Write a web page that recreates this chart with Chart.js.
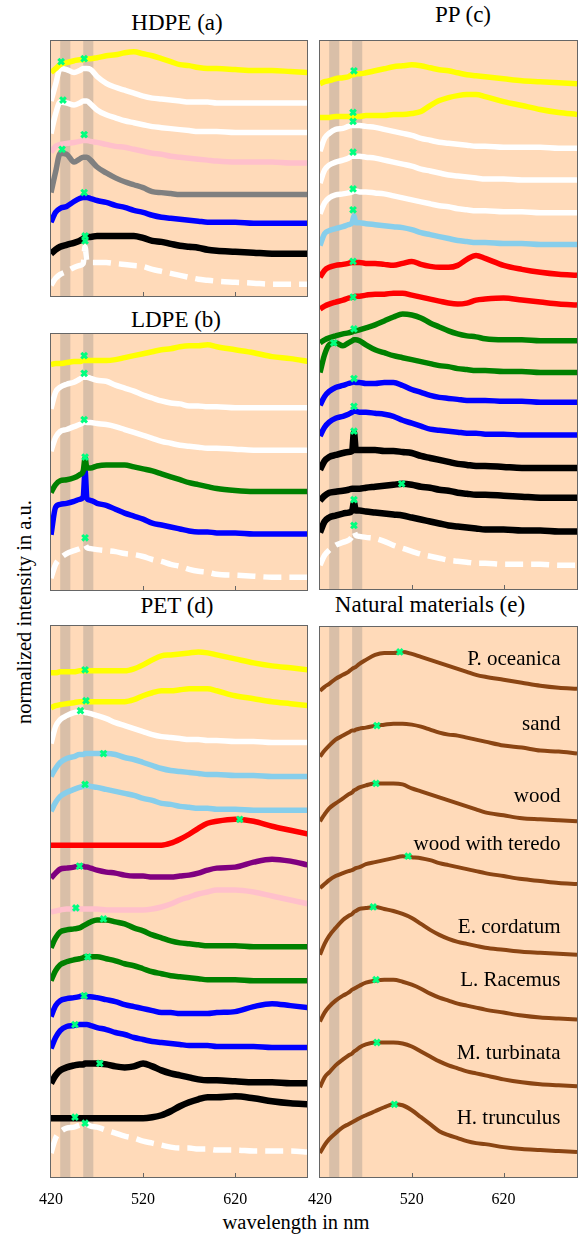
<!DOCTYPE html>
<html>
<head>
<meta charset="utf-8">
<script src="https://cdn.jsdelivr.net/npm/chart.js@4.4.1/dist/chart.umd.min.js"></script>
<style>
  body { margin: 0; background: #fff; width: 579px; height: 1236px; position: relative; overflow: hidden;
         font-family: "Liberation Serif", serif; color: #000; }
  canvas { position: absolute; }
  .t { position: absolute; font-size: 23px; line-height: 23px; white-space: nowrap; transform: translateX(-50%); }
  .lab { position: absolute; font-size: 20.5px; line-height: 20px; white-space: nowrap; }
</style>
</head>
<body>
<div class="t" style="left:177px;top:11px">HDPE (a)</div>
<div class="t" style="left:463px;top:3px">PP (c)</div>
<div class="t" style="left:176px;top:308px">LDPE (b)</div>
<div class="t" style="left:177px;top:594px">PET (d)</div>
<div class="t" style="left:430px;top:592.5px">Natural materials (e)</div>
<div class="lab" style="left:24px;top:612px;transform:translate(-50%,-50%) rotate(-90deg)">normalized intensity in a.u.</div>
<div class="lab" style="left:296px;top:1212px;transform:translateX(-50%)">wavelength in nm</div>

<canvas id="hdpe" width="306" height="269" style="left:26px;top:34px"></canvas>
<canvas id="ldpe" width="306" height="270" style="left:26px;top:327px"></canvas>
<canvas id="pet" width="306" height="588" style="left:26px;top:619px"></canvas>
<canvas id="pp" width="307" height="562" style="left:295px;top:34px"></canvas>
<canvas id="nat" width="307" height="587" style="left:295px;top:620px"></canvas>

<script>
// wavelength grid (nm), shared by every spectrum
const wl = [420,425,430,437,445,451,455,457,459,463,470,480,490,500,510,520,530,540,550,560,570,580,590,600,620,640,660,680,700];
const xTicks = [420, 520, 620];
const bands = [[430, 441], [455, 466]];

// HDPE (a)
const hdpeYellow = [22.7,23.1,23.5,23.7,23.9,24.0,24.0,24.1,24.1,24.1,24.2,24.4,24.5,24.7,24.8,24.6,24.4,24.1,23.8,23.5,23.4,23.2,23.1,23.1,23.0,22.9,22.9,22.8,22.7];
const hdpeWhite1 = [19.8,21.5,23.1,23.0,22.7,22.9,23.1,23.1,23.1,23.0,22.3,21.6,21.2,20.9,20.6,20.3,20.1,20.0,19.9,19.8,19.7,19.7,19.7,19.6,19.6,19.6,19.6,19.6,19.6];
const hdpeWhite2 = [16.5,18.5,19.7,19.6,19.4,19.6,19.8,19.8,19.8,19.5,18.9,18.4,18.1,17.8,17.6,17.4,17.2,17.1,17.0,16.9,16.8,16.7,16.7,16.7,16.6,16.6,16.6,16.6,16.6];
const hdpePink = [14.6,15.2,15.4,15.5,15.6,15.7,15.8,15.8,15.8,15.7,15.6,15.4,15.2,15.1,14.9,14.7,14.5,14.4,14.2,14.1,14.0,13.9,13.8,13.7,13.6,13.6,13.6,13.5,13.5];
const hdpeGray = [10.5,12.6,14.5,14.4,13.6,13.9,14.1,14.1,14.1,13.8,13.1,12.5,12.0,11.6,11.3,11.0,10.6,10.5,10.4,10.3,10.3,10.3,10.3,10.3,10.3,10.3,10.3,10.3,10.3];
const hdpeBlue = [7.5,8.5,8.9,9.1,9.6,9.9,10.0,10.0,10.0,9.9,9.7,9.5,9.2,9.0,8.7,8.5,8.2,8.0,7.9,7.8,7.7,7.6,7.5,7.5,7.5,7.4,7.4,7.4,7.4];
const hdpeBlack = [4.3,4.7,5.0,5.2,5.4,5.6,5.8,6.0,6.0,6.0,6.1,6.1,6.1,6.1,6.1,5.9,5.6,5.5,5.3,5.1,5.0,4.9,4.7,4.6,4.5,4.4,4.3,4.3,4.3];
const hdpeDash = [1.1,1.8,2.2,2.5,2.9,3.1,3.3,5.0,3.5,3.4,3.4,3.4,3.3,3.2,3.1,3.0,2.7,2.5,2.3,2.1,1.9,1.7,1.6,1.5,1.4,1.3,1.2,1.2,1.2];
const hdpeMarks = [[456,24.1],[431,23.8],[433,19.9],[456,16.4],[432,14.9],[456,10.5],[457,6.1],[457,5.6]];

// LDPE (b)
const ldpeYellow = [22.9,23.0,23.0,23.1,23.2,23.2,23.3,23.3,23.3,23.3,23.3,23.3,23.4,23.6,23.8,24.0,24.2,24.4,24.5,24.7,24.8,24.8,24.9,24.7,24.4,24.1,23.7,23.5,23.2];
const ldpeWhite1 = [18.4,20.1,20.6,20.9,21.1,21.4,21.6,21.6,21.6,21.5,21.3,21.2,20.8,20.5,20.2,19.8,19.5,19.2,19.0,18.9,18.7,18.7,18.6,18.6,18.5,18.5,18.5,18.5,18.5];
const ldpeWhite2 = [14.1,15.5,16.1,16.3,16.6,16.8,17.0,17.1,17.0,17.0,16.9,16.8,16.6,16.3,16.0,15.7,15.4,15.1,14.9,14.7,14.6,14.5,14.4,14.4,14.3,14.2,14.2,14.2,14.2];
const ldpeGreen = [9.9,10.7,11.1,11.2,11.4,11.7,12.1,13.4,12.4,12.4,12.6,12.7,12.7,12.7,12.5,12.3,12.1,11.8,11.5,11.2,10.9,10.7,10.5,10.3,10.1,10.0,10.0,10.0,10.0];
const ldpeBlue = [5.6,8.4,8.7,8.8,9.0,9.2,9.5,12.1,9.3,9.1,8.8,8.6,8.2,7.8,7.5,7.2,6.8,6.6,6.4,6.2,6.0,5.9,5.9,5.8,5.8,5.7,5.7,5.7,5.7];
const ldpeDash = [1.2,2.6,3.2,3.7,4.0,4.2,4.4,4.6,4.3,4.2,4.1,4.0,3.9,3.7,3.6,3.4,3.1,2.9,2.6,2.4,2.1,1.9,1.8,1.6,1.5,1.4,1.3,1.3,1.3];
const ldpeMarks = [[456,23.8],[456,22.0],[456,17.3],[457,13.5],[457,5.3]];

// PP (c)
const ppYellow1 = [50.9,51.1,51.2,51.4,51.5,51.6,51.8,51.8,51.9,51.9,52.0,52.2,52.4,52.6,52.7,52.8,52.7,52.5,52.3,52.2,52.0,51.8,51.7,51.6,51.4,51.2,51.1,51.0,50.9];
const ppYellow2 = [47.5,47.5,47.5,47.6,47.6,47.6,47.6,47.6,47.6,47.6,47.7,47.7,47.7,47.8,47.8,47.9,48.1,48.7,49.2,49.5,49.7,49.8,49.8,49.6,49.1,48.7,48.3,48.0,47.8];
const ppWhite1 = [44.1,45.4,45.9,46.3,46.4,46.6,46.7,46.7,46.7,46.7,46.6,46.5,46.3,46.1,45.9,45.7,45.4,45.2,45.0,44.9,44.8,44.7,44.6,44.6,44.5,44.5,44.5,44.4,44.4];
const ppWhite2 = [40.9,42.2,42.7,43.0,43.2,43.4,43.6,43.6,43.6,43.6,43.5,43.4,43.2,43.0,42.8,42.6,42.3,42.1,41.9,41.7,41.6,41.5,41.4,41.3,41.3,41.2,41.2,41.2,41.2];
const ppWhite3 = [37.8,38.9,39.4,39.7,39.8,39.9,40.0,40.1,40.1,40.0,40.0,39.9,39.8,39.6,39.4,39.2,39.0,38.8,38.6,38.5,38.3,38.2,38.1,38.1,38.0,38.0,37.9,37.9,37.9];
const ppSky = [34.6,35.8,36.1,36.3,36.5,36.7,36.9,37.6,36.9,36.9,36.8,36.7,36.6,36.5,36.4,36.2,35.9,35.7,35.5,35.3,35.1,35.0,34.9,34.9,34.8,34.8,34.7,34.7,34.7];
const ppRed1 = [31.4,32.1,32.4,32.6,32.7,32.8,32.9,32.9,32.9,32.9,32.8,32.8,32.7,32.6,32.8,33.0,32.7,32.5,32.4,32.4,32.6,33.2,33.6,33.3,32.6,32.2,31.9,31.7,31.6];
const ppRed2 = [28.2,28.5,28.7,28.9,29.1,29.3,29.4,29.4,29.5,29.5,29.6,29.7,29.7,29.8,29.8,29.6,29.4,29.2,29.0,28.8,28.7,28.8,29.1,29.2,29.3,29.1,28.9,28.7,28.6];
const ppGreen1 = [24.8,25.1,25.3,25.5,25.7,25.8,25.9,26.0,26.0,26.1,26.3,26.6,27.0,27.4,27.7,27.6,27.3,26.8,26.4,26.0,25.7,25.5,25.4,25.2,25.1,25.1,25.0,25.0,25.0];
const ppGreen2 = [21.8,23.6,24.6,24.8,24.5,24.8,25.0,25.1,25.1,25.0,24.6,24.1,23.8,23.5,23.3,23.1,22.9,22.7,22.5,22.4,22.2,22.1,22.0,22.0,21.9,21.9,21.8,21.8,21.8];
const ppBlue1 = [18.5,19.4,19.9,20.3,20.5,20.7,20.8,20.9,20.8,20.8,20.7,20.7,20.8,20.8,20.5,20.1,19.8,19.5,19.3,19.2,19.1,19.0,19.0,19.0,18.9,18.9,18.8,18.8,18.8];
const ppBlue2 = [15.4,16.3,16.8,17.2,17.4,17.6,17.8,17.9,17.9,17.8,17.8,17.7,17.6,17.4,17.0,16.7,16.4,16.1,16.0,15.9,15.8,15.7,15.7,15.6,15.6,15.5,15.5,15.5,15.5];
const ppBlack1 = [12.0,12.9,13.3,13.5,13.7,13.8,13.9,15.8,14.0,14.0,14.0,14.0,13.9,13.9,13.8,13.7,13.4,13.2,13.0,12.8,12.6,12.5,12.4,12.4,12.3,12.2,12.2,12.2,12.2];
const ppBlack2 = [8.9,9.4,9.7,9.8,9.9,10.0,10.1,10.1,10.1,10.1,10.2,10.3,10.4,10.5,10.6,10.5,10.3,10.2,10.0,9.9,9.7,9.6,9.5,9.5,9.4,9.3,9.2,9.2,9.2];
const ppBlack3 = [5.7,6.8,7.2,7.4,7.6,7.7,7.9,8.7,7.9,7.9,7.8,7.7,7.6,7.5,7.4,7.2,7.0,6.8,6.6,6.4,6.3,6.2,6.1,6.0,6.0,5.9,5.9,5.8,5.8];
const ppDash = [2.4,3.4,3.9,4.4,4.7,4.9,5.3,5.8,5.4,5.3,5.2,5.1,4.8,4.4,4.1,3.8,3.5,3.3,3.1,2.9,2.8,2.7,2.6,2.6,2.5,2.5,2.5,2.4,2.4];
const ppMarks = [[457,52.2],[456,48.0],[456,47.1],[456,44.0],[456,40.3],[456,38.2],[456,33.0],[456,29.4],[457,26.2],[435,24.8],[457,21.2],[457,18.4],[457,15.9],[509,10.6],[457,9.0],[457,6.4]];

// PET (d)
const petYellow1 = [50.6,50.6,50.7,50.7,50.7,50.8,50.8,50.8,50.8,50.8,50.8,50.8,50.8,50.8,51.0,51.4,51.9,52.3,52.4,52.5,52.6,52.7,52.6,52.4,52.0,51.6,51.3,51.1,50.9];
const petYellow2 = [47.1,47.3,47.4,47.5,47.6,47.7,47.7,47.7,47.7,47.7,47.7,47.7,47.7,47.7,47.9,48.3,48.6,48.8,48.8,48.9,49.0,49.0,49.0,48.8,48.3,48.0,47.7,47.5,47.3];
const petWhite = [43.5,45.2,45.9,46.3,46.6,46.7,46.7,46.6,46.6,46.5,46.3,46.0,45.6,45.3,45.0,44.7,44.4,44.2,44.1,44.0,43.9,43.9,43.8,43.8,43.7,43.7,43.6,43.6,43.6];
const petSky1 = [40.2,41.0,41.6,42.0,42.2,42.4,42.4,42.5,42.5,42.5,42.5,42.5,42.4,42.1,41.9,41.6,41.3,41.0,40.8,40.7,40.6,40.5,40.4,40.4,40.3,40.3,40.2,40.2,40.2];
const petSky2 = [36.7,37.6,38.2,38.6,38.9,39.1,39.2,39.3,39.3,39.2,39.1,38.9,38.7,38.5,38.3,38.0,37.8,37.5,37.4,37.2,37.1,37.0,37.0,36.9,36.9,36.8,36.8,36.8,36.8];
const petRed = [33.3,33.3,33.3,33.3,33.3,33.3,33.3,33.3,33.3,33.3,33.3,33.3,33.3,33.3,33.3,33.3,33.3,33.3,33.5,33.9,34.4,35.0,35.5,35.7,35.9,35.7,35.2,34.8,34.4];
const petPurple = [30.0,30.5,30.9,31.0,31.1,31.2,31.2,31.1,31.1,31.0,30.8,30.6,30.5,30.3,30.2,30.2,30.1,30.1,30.1,30.2,30.3,30.5,30.8,31.0,31.1,31.6,31.9,31.7,31.3];
const petPink = [26.6,26.7,26.8,26.9,26.9,26.9,26.9,26.9,26.9,26.9,26.9,26.8,26.8,26.8,26.8,26.8,26.9,27.1,27.4,27.8,28.1,28.4,28.6,28.8,28.8,28.6,28.2,27.8,27.4];
const petGreen1 = [23.0,24.0,24.6,24.8,24.9,25.0,25.2,25.3,25.4,25.6,25.8,25.8,25.6,25.4,25.0,24.7,24.3,24.0,23.7,23.5,23.4,23.3,23.2,23.2,23.2,23.1,23.1,23.1,23.1];
const petGreen2 = [19.7,20.7,21.3,21.6,21.8,21.9,22.0,22.1,22.1,22.1,22.1,21.9,21.7,21.4,21.2,20.9,20.6,20.4,20.2,20.1,20.0,19.9,19.8,19.8,19.8,19.7,19.7,19.7,19.7];
const petBlue1 = [16.1,17.2,17.7,17.9,18.0,18.1,18.2,18.2,18.1,18.1,18.0,17.8,17.6,17.3,17.1,16.9,16.7,16.5,16.5,16.4,16.4,16.4,16.4,16.5,16.6,17.1,17.4,17.2,17.0];
const petBlue2 = [12.9,14.0,14.7,15.1,15.2,15.3,15.3,15.3,15.3,15.2,15.0,14.8,14.5,14.3,14.0,13.8,13.6,13.5,13.4,13.3,13.2,13.2,13.2,13.1,13.1,13.1,13.0,13.0,13.0];
const petBlack1 = [9.4,10.2,10.7,11.0,11.2,11.3,11.3,11.4,11.4,11.4,11.4,11.3,11.1,11.0,11.1,11.4,11.1,10.7,10.4,10.2,10.0,9.8,9.7,9.7,9.6,9.5,9.5,9.4,9.4];
const petBlack2 = [5.9,5.9,5.9,5.9,5.9,5.9,5.9,5.9,5.9,5.9,5.9,5.9,5.9,5.9,5.9,5.9,6.0,6.2,6.6,7.1,7.5,7.8,8.0,8.0,8.1,7.9,7.6,7.4,7.3];
const petDash = [2.4,3.9,4.5,4.9,5.0,5.2,5.3,5.4,5.3,5.1,5.0,4.7,4.4,4.1,3.9,3.6,3.4,3.2,3.0,2.9,2.9,2.8,2.8,2.7,2.7,2.6,2.6,2.6,2.5];
const petMarks = [[457,50.9],[458,47.8],[452,46.8],[477,42.5],[457,39.4],[625,35.9],[451,31.2],[447,27.0],[477,25.9],[460,22.1],[456,18.2],[446,15.3],[473,11.4],[446,6.0],[457,5.4]];

// Natural materials (e)
const natOceanica = [48.8,49.2,49.5,50.0,50.4,50.7,51.0,51.1,51.2,51.5,51.9,52.4,52.6,52.6,52.7,52.5,52.2,51.9,51.6,51.3,51.0,50.7,50.4,50.2,49.9,49.6,49.3,49.1,49.0];
const natSand = [42.2,42.8,43.3,43.9,44.3,44.6,44.8,44.8,44.9,45.0,45.1,45.3,45.4,45.5,45.5,45.4,45.2,44.9,44.6,44.4,44.3,44.1,43.9,43.7,43.3,43.1,42.8,42.7,42.5];
const natWood = [35.7,36.4,37.0,37.5,38.0,38.4,38.6,38.8,38.9,39.1,39.3,39.5,39.5,39.5,39.4,39.0,38.7,38.4,38.1,37.8,37.5,37.2,36.9,36.6,36.3,36.0,35.9,35.8,35.7];
const natTeredo = [29.0,29.4,29.8,30.2,30.5,30.7,30.8,30.9,31.0,31.1,31.4,31.6,31.8,32.0,32.2,32.1,32.0,31.8,31.5,31.3,31.1,30.9,30.7,30.5,30.2,29.9,29.7,29.5,29.4];
const natCordatum = [22.3,23.4,24.2,25.0,25.8,26.2,26.4,26.6,26.7,26.9,27.0,27.1,26.9,26.7,26.4,26.0,25.4,24.8,24.3,23.9,23.6,23.4,23.2,23.0,22.8,22.6,22.5,22.4,22.3];
const natRacemus = [15.6,16.5,17.1,17.7,18.2,18.5,18.8,18.9,19.0,19.2,19.5,19.7,19.8,19.8,19.6,19.3,18.9,18.4,18.0,17.7,17.4,17.2,17.0,16.8,16.5,16.2,16.0,15.9,15.8];
const natTurbinata = [9.0,10.0,10.5,11.2,11.8,12.2,12.4,12.6,12.7,13.0,13.3,13.5,13.5,13.5,13.4,13.1,12.6,12.1,11.6,11.2,10.9,10.6,10.4,10.2,9.8,9.5,9.3,9.2,9.1];
const natTrunculus = [2.4,3.2,3.8,4.4,5.0,5.3,5.5,5.6,5.7,5.9,6.2,6.6,7.0,7.3,7.2,6.7,6.0,5.3,4.6,4.2,3.9,3.6,3.4,3.3,3.0,2.8,2.7,2.6,2.5];
const natMarks = [[507,52.7],[482,45.3],[481,39.5],[516,32.2],[478,27.1],[481,19.8],[482,13.5],[501,7.3]];
const natNames = ['P. oceanica', 'sand', 'wood', 'wood with teredo', 'E. cordatum', 'L. Racemus', 'M. turbinata', 'H. trunculus'];
const natNameAt = [51.9, 45.4, 38.2, 33.4, 25.0, 19.7, 12.4, 5.9];

const COL = {
  yellow: '#ffff00', white: '#ffffff', pink: '#ffc0cb', gray: '#808080', blue: '#0000ff',
  black: '#000000', green: '#008000', red: '#ff0000', sky: '#87ceeb', purple: '#800080', brown: '#8b4513'
};
const SERIF = "'Liberation Serif', serif";
Chart.defaults.font.family = SERIF;

// background, absorption bands, frame, inner ticks, species names
const decor = {
  id: 'decor',
  beforeDatasetsDraw(chart) {
    const { ctx, chartArea: a, scales: { x } } = chart;
    ctx.save();
    ctx.fillStyle = '#ffdab9';
    ctx.fillRect(a.left, a.top, a.width, a.height);
    ctx.fillStyle = 'rgba(128,128,128,0.3)';
    bands.forEach(([b0, b1]) => {
      const p0 = x.getPixelForValue(b0), p1 = x.getPixelForValue(b1);
      ctx.fillRect(p0, a.top, p1 - p0, a.height);
    });
    ctx.restore();
  },
  afterDraw(chart) {
    const { ctx, chartArea: a, scales: { x, y } } = chart;
    ctx.save();
    ctx.strokeStyle = '#666';
    ctx.lineWidth = 1;
    ctx.strokeRect(a.left - 0.5, a.top - 0.5, a.width + 1, a.height + 1);
    xTicks.slice(1).forEach(v => {
      const px = Math.round(x.getPixelForValue(v)) + 0.5;
      ctx.beginPath();
      ctx.moveTo(px, a.bottom);
      ctx.lineTo(px, a.bottom - 4);
      ctx.stroke();
    });
    const names = chart.options.plugins.decor.names;
    if (names) {
      ctx.fillStyle = '#000';
      ctx.font = '21px ' + SERIF;
      ctx.textAlign = 'right';
      ctx.textBaseline = 'middle';
      names.forEach((n, i) => ctx.fillText(n, x.getPixelForValue(682), y.getPixelForValue(natNameAt[i])));
    }
    ctx.restore();
  }
};

function panel(id, xMax, yMax, series, marks, bottom, names) {
  const datasets = series.map(([vals, col, dashed]) => ({
    data: wl.map((w, i) => ({ x: w, y: vals[i] })),
    borderColor: COL[col],
    borderWidth: col === 'black' ? 6.5 : col === 'brown' ? 4 : 5.5,
    borderDash: dashed ? [18, 8] : [],
    borderJoinStyle: 'round',
    cubicInterpolationMode: 'monotone',
    pointRadius: 0,
    clip: 0
  }));
  datasets.push({
    data: marks.map(([w, v]) => ({ x: w, y: v })),
    showLine: false,
    pointStyle: 'crossRot',
    pointRadius: 4,
    pointBorderWidth: 3,
    pointBorderColor: '#00ff7f',
    borderColor: '#00ff7f',
    order: -1,
    clip: false
  });
  const xScale = {
    type: 'linear', min: 420, max: xMax,
    display: bottom,
    grid: { display: false },
    border: { display: false },
    ticks: { color: '#000', font: { family: SERIF, size: 16 }, padding: 5, maxRotation: 0, autoSkip: false },
    afterBuildTicks: s => { s.ticks = xTicks.map(v => ({ value: v })); }
  };
  if (bottom) xScale.afterFit = s => { s.height = 30; };
  new Chart(document.getElementById(id), {
    type: 'line',
    data: { datasets },
    plugins: [decor],
    options: {
      responsive: false,
      animation: false,
      events: [],
      layout: { padding: { left: 25, right: 25, top: 5, bottom: bottom ? 0 : 5 } },
      plugins: { legend: { display: false }, tooltip: { enabled: false }, decor: { names } },
      scales: {
        x: xScale,
        y: { display: false, min: 0, max: yMax }
      }
    }
  });
}

panel('hdpe', 698, 25.9, [
  [hdpeYellow, 'yellow'], [hdpeWhite1, 'white'], [hdpeWhite2, 'white'], [hdpePink, 'pink'],
  [hdpeGray, 'gray'], [hdpeBlue, 'blue'], [hdpeBlack, 'black'], [hdpeDash, 'white', true]
], hdpeMarks, false);

panel('ldpe', 698, 26.0, [
  [ldpeYellow, 'yellow'], [ldpeWhite1, 'white'], [ldpeWhite2, 'white'], [ldpeGreen, 'green'],
  [ldpeBlue, 'blue'], [ldpeDash, 'white', true]
], ldpeMarks, false);

panel('pet', 698, 55.3, [
  [petYellow1, 'yellow'], [petYellow2, 'yellow'], [petWhite, 'white'], [petSky1, 'sky'], [petSky2, 'sky'],
  [petRed, 'red'], [petPurple, 'purple'], [petPink, 'pink'], [petGreen1, 'green'], [petGreen2, 'green'],
  [petBlue1, 'blue'], [petBlue2, 'blue'], [petBlack1, 'black'], [petBlack2, 'black'], [petDash, 'white', true]
], petMarks, true);

panel('pp', 700, 55.2, [
  [ppYellow1, 'yellow'], [ppYellow2, 'yellow'], [ppWhite1, 'white'], [ppWhite2, 'white'], [ppWhite3, 'white'],
  [ppSky, 'sky'], [ppRed1, 'red'], [ppRed2, 'red'], [ppGreen1, 'green'], [ppGreen2, 'green'],
  [ppBlue1, 'blue'], [ppBlue2, 'blue'], [ppBlack1, 'black'], [ppBlack2, 'black'], [ppBlack3, 'black'],
  [ppDash, 'white', true]
], ppMarks, false);

panel('nat', 700, 55.2, [
  [natOceanica, 'brown'], [natSand, 'brown'], [natWood, 'brown'], [natTeredo, 'brown'],
  [natCordatum, 'brown'], [natRacemus, 'brown'], [natTurbinata, 'brown'], [natTrunculus, 'brown']
], natMarks, true, natNames);
</script>
</body>
</html>
